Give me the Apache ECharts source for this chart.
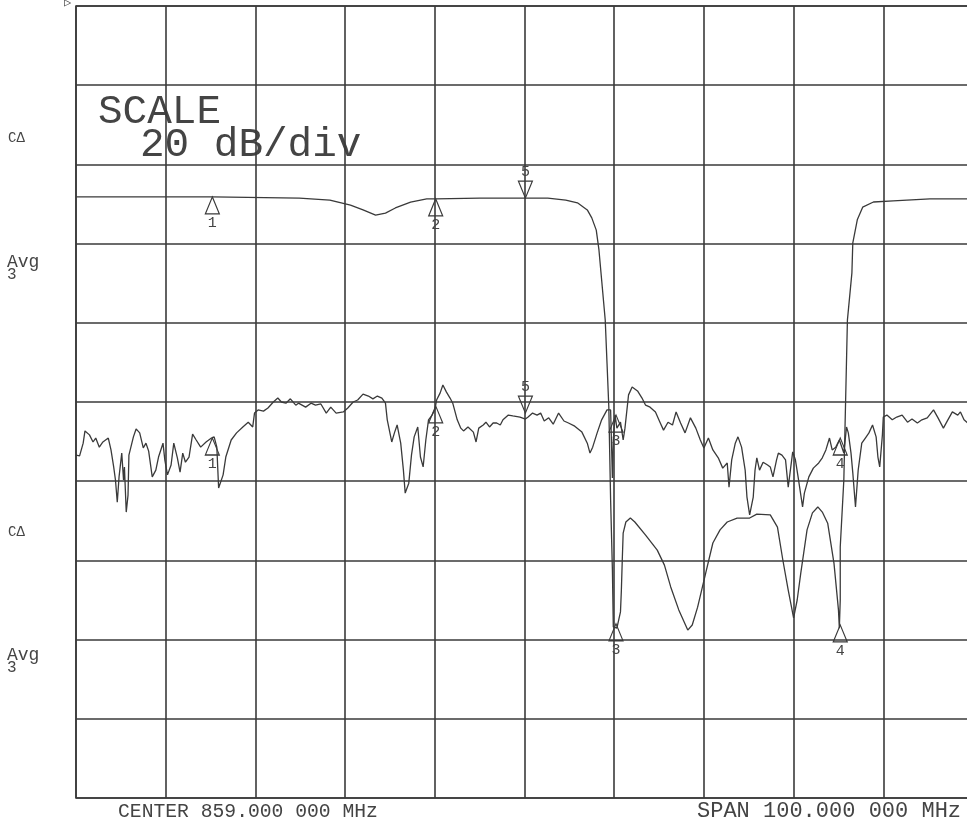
<!DOCTYPE html>
<html><head><meta charset="utf-8">
<script src="https://cdn.jsdelivr.net/npm/echarts@6/dist/echarts.min.js"></script>
<style>html,body{margin:0;padding:0;background:#fff;overflow:hidden;}#c{width:967px;height:820px;}</style>
</head><body><div id="c"></div>
<script>
// Frequency axis (MHz): center 859, span 100, 10 MHz/div
const freqMin = 809, freqMax = 909, freqStep = 10;
// Amplitude axis (dB): 20 dB/div
const dbMin = -200, dbMax = 0, dbStep = 20;

// Smooth transmission trace [MHz, dB]
const s21Trace = [
[809.0,-48.2],[817.2,-48.2],[824.2,-48.2],[833.9,-48.5],[837.3,-49.0],[839.6,-50.3],[841.0,-51.5],[842.4,-52.8],
[843.5,-52.3],[844.6,-51.0],[846.3,-49.5],[848.1,-48.7],[849.1,-48.7],[854.0,-48.5],[859.1,-48.5],[861.6,-48.5],
[863.6,-49.0],[864.9,-49.7],[866.0,-51.5],[866.5,-53.5],[867.0,-56.6],[867.3,-61.6],[867.6,-69.2],[868.0,-79.3],
[868.2,-90.2],[868.4,-101.3],[868.6,-124.7],[868.8,-142.4],[868.9,-156.8],[869.3,-157.1],[869.7,-153.0],[869.8,-147.5],
[869.9,-139.9],[870.0,-133.1],[870.3,-130.3],[870.8,-129.3],[871.3,-130.3],[872.5,-133.6],[873.8,-137.4],[874.6,-141.2],
[875.3,-146.7],[876.2,-152.5],[877.2,-157.6],[877.7,-156.3],[878.3,-151.8],[879.2,-143.2],[880.0,-135.6],[880.8,-132.3],
[881.6,-130.3],[882.7,-129.3],[884.1,-129.3],[884.9,-128.3],[886.4,-128.5],[887.2,-131.6],[887.8,-139.9],[888.4,-147.5],
[889.0,-154.5],[889.4,-150.0],[889.8,-143.2],[890.5,-132.3],[891.1,-128.0],[891.7,-126.5],[892.2,-127.8],[892.8,-130.6],
[893.5,-140.7],[894.0,-152.5],[894.1,-157.1],[894.2,-150.0],[894.2,-136.6],[894.6,-119.7],[894.8,-99.5],[895.0,-79.3],
[895.5,-67.4],[895.6,-59.8],[896.1,-54.0],[896.7,-50.8],[897.9,-49.5],[900.1,-49.2],[904.2,-48.7],[909.0,-48.7]
];

// Noisy trace [MHz, dB]
const s11Trace = [
[809.0,-113.4],[809.4,-113.6],[809.8,-110.4],[810.0,-107.3],[810.5,-108.3],[810.9,-110.1],[811.2,-109.1],[811.6,-111.4],
[812.0,-110.1],[812.6,-109.1],[812.9,-112.1],[813.2,-116.4],[813.4,-119.7],[813.6,-125.3],[813.8,-118.9],[814.1,-112.9],
[814.3,-119.7],[814.4,-116.4],[814.6,-127.8],[814.8,-123.5],[814.9,-113.4],[815.4,-108.8],[815.7,-106.8],[816.1,-107.8],
[816.5,-111.6],[816.8,-110.4],[817.1,-112.4],[817.5,-118.9],[817.9,-117.2],[818.2,-113.9],[818.7,-110.4],[818.9,-114.6],
[819.2,-118.4],[819.6,-115.9],[819.9,-110.4],[820.3,-114.1],[820.6,-117.7],[820.9,-112.9],[821.2,-115.2],[821.6,-113.9],
[822.0,-108.1],[822.4,-109.6],[822.9,-111.4],[823.5,-110.1],[824.1,-109.1],[824.4,-108.8],[824.7,-111.4],[824.9,-121.7],
[825.4,-118.4],[825.7,-113.9],[826.3,-109.6],[826.9,-107.8],[827.6,-106.3],[828.2,-105.1],[828.7,-106.3],[828.9,-102.8],
[829.3,-102.0],[829.9,-102.3],[830.4,-101.5],[831.0,-100.0],[831.5,-99.0],[831.9,-100.0],[832.4,-100.3],[832.9,-99.2],
[833.5,-100.8],[833.8,-100.3],[834.6,-101.3],[835.2,-100.3],[835.7,-100.8],[836.3,-100.5],[836.9,-102.8],[837.4,-101.3],
[838.0,-102.8],[838.8,-102.5],[839.3,-101.5],[839.9,-100.0],[840.4,-99.5],[841.0,-98.0],[841.6,-98.5],[842.1,-99.2],
[842.6,-98.5],[843.1,-99.0],[843.5,-100.3],[843.7,-104.5],[844.2,-110.1],[844.5,-107.8],[844.8,-105.8],[845.2,-110.4],
[845.5,-117.2],[845.7,-123.0],[846.1,-120.5],[846.4,-113.4],[846.7,-108.8],[847.1,-106.3],[847.4,-113.9],[847.7,-116.4],
[848.0,-109.6],[848.3,-104.5],[848.7,-103.3],[849.0,-102.0],[849.2,-99.5],[849.6,-97.7],[849.9,-95.7],[850.3,-97.5],
[850.7,-99.0],[851.0,-100.3],[851.5,-104.5],[851.9,-106.6],[852.2,-107.3],[852.7,-106.3],[853.3,-107.6],[853.6,-110.1],
[853.9,-106.6],[854.4,-105.8],[854.7,-105.1],[855.1,-106.3],[855.5,-105.3],[855.9,-105.3],[856.3,-105.8],[856.6,-104.5],
[857.2,-103.3],[857.7,-103.5],[858.5,-103.8],[859.1,-104.3],[859.4,-103.8],[859.9,-102.8],[860.4,-103.3],[860.8,-102.8],
[861.2,-104.8],[861.7,-104.0],[862.2,-105.6],[862.8,-102.8],[863.4,-104.8],[863.9,-105.3],[864.6,-106.1],[865.4,-107.6],
[866.0,-110.4],[866.3,-112.9],[866.6,-111.4],[867.1,-107.8],[867.6,-104.5],[868.2,-102.0],[868.4,-101.5],[868.6,-102.0],
[868.8,-119.2],[868.9,-109.6],[869.1,-103.3],[869.3,-106.6],[869.7,-105.1],[870.0,-109.6],[870.2,-106.6],[870.6,-98.2],
[871.0,-96.2],[871.6,-97.2],[872.1,-99.0],[872.5,-100.8],[873.0,-101.3],[873.6,-102.5],[874.1,-105.1],[874.5,-107.1],
[875.0,-105.1],[875.5,-105.8],[875.9,-102.5],[876.4,-105.3],[876.9,-107.8],[877.5,-104.0],[878.1,-106.6],[878.6,-109.6],
[879.0,-111.6],[879.5,-109.1],[880.0,-112.1],[880.6,-114.1],[881.1,-116.7],[881.6,-115.4],[881.8,-121.5],[882.1,-114.6],
[882.5,-110.4],[882.8,-108.8],[883.2,-111.4],[883.6,-117.2],[883.8,-124.0],[884.1,-128.5],[884.5,-124.0],[884.7,-117.2],
[884.9,-114.1],[885.2,-117.2],[885.6,-115.2],[886.1,-115.9],[886.4,-116.4],[886.7,-118.9],[887.1,-114.6],[887.3,-112.9],
[887.7,-113.4],[888.1,-114.6],[888.4,-121.5],[888.9,-112.6],[889.2,-114.6],[889.5,-118.9],[890.0,-126.5],[890.2,-123.0],
[890.7,-118.9],[891.2,-116.7],[891.8,-115.4],[892.2,-114.1],[892.6,-112.1],[893.0,-109.1],[893.3,-112.1],[893.7,-111.4],
[894.1,-109.6],[894.6,-112.9],[894.9,-106.3],[895.1,-107.8],[895.4,-112.9],[895.6,-117.9],[895.9,-126.5],[896.2,-117.2],
[896.6,-110.4],[897.0,-109.1],[897.4,-107.8],[897.8,-105.8],[898.2,-108.8],[898.4,-113.9],[898.6,-116.4],[898.9,-108.3],
[899.0,-103.8],[899.4,-103.3],[900.0,-104.5],[900.5,-103.8],[901.1,-103.3],[901.7,-105.1],[902.2,-104.3],[902.8,-105.3],
[903.3,-104.5],[903.9,-104.0],[904.6,-102.0],[905.1,-104.0],[905.7,-106.6],[906.2,-104.5],[906.7,-102.5],[907.3,-103.3],
[907.6,-102.5],[908.0,-104.5],[908.4,-105.3],[909.0,-103.8]
];

// Markers
const markerNames = ['1', '2', '5', '3', '4'];
const markerFreq = [824.2, 849.1, 859.1, 869.2, 894.2];
const markerS21 = [-48.2, -48.7, -48.5, -156.0, -156.3];
const markerS11 = [-109.1, -101.0, -102.8, -103.3, -109.1];
const markerInverted = [false, false, true, false, false];

const ink = '#3a3a3a';
const textInk = '#444444';
const mono = '"Liberation Mono", "DejaVu Sans Mono", monospace';
const upPath = 'path://M5,0L10,16L0,16Z';
const downPath = 'path://M0,0L10,0L5,16Z';

function markers(values) {
  return {
    silent: true,
    animation: false,
    itemStyle: { color: 'rgba(0,0,0,0)', borderColor: ink, borderWidth: 1.2 },
    label: { show: true, color: textInk, fontFamily: mono, fontSize: 15, distance: 1, formatter: p => p.name },
    data: markerFreq.map((f, i) => ({
      name: markerNames[i],
      coord: [f, values[i]],
      symbol: markerInverted[i] ? downPath : upPath,
      symbolSize: [14, 17],
      symbolOffset: markerInverted[i] ? [0, -8.5] : [0, 8.5],
      label: { position: markerInverted[i] ? 'top' : 'bottom' }
    }))
  };
}

const chart = echarts.init(document.getElementById('c'), null, { renderer: 'canvas' });
const txt = (x, y, text, size) => ({
  type: 'text', left: x, top: y, silent: true,
  style: { text, fill: textInk, font: size + 'px ' + mono }
});
chart.setOption({
  animation: false,
  backgroundColor: '#ffffff',
  grid: {
    left: 76, top: 6, width: 897, height: 792, outerBoundsMode: 'none', containLabel: false,
    show: true, borderColor: ink, borderWidth: 1.6, backgroundColor: 'transparent'
  },
  xAxis: {
    type: 'value', min: freqMin, max: freqMax, interval: freqStep,
    axisLine: { show: false }, axisTick: { show: false }, axisLabel: { show: false },
    splitLine: { show: true, lineStyle: { color: ink, width: 1.6 } }
  },
  yAxis: {
    type: 'value', min: dbMin, max: dbMax, interval: dbStep,
    axisLine: { show: false }, axisTick: { show: false }, axisLabel: { show: false },
    splitLine: { show: true, lineStyle: { color: ink, width: 1.6 } }
  },
  series: [
    { type: 'line', data: s21Trace, showSymbol: false, lineStyle: { color: ink, width: 1.3 }, markPoint: markers(markerS21), z: 3 },
    { type: 'line', data: s11Trace, showSymbol: false, lineStyle: { color: ink, width: 1.3 }, markPoint: markers(markerS11), z: 3 }
  ],
  graphic: [
    txt(98, 92, 'SCALE', 41),
    txt(140, 125, '20 dB/div', 41),
    txt(118, 802, 'CENTER 859.000 000 MHz', 19.7),
    txt(697, 800, 'SPAN 100.000 000 MHz', 22),
    txt(8, 131, 'C\u0394', 14),
    txt(7, 253, 'Avg', 18),
    txt(7, 267, '3', 16),
    txt(8, 525, 'C\u0394', 14),
    txt(7, 646, 'Avg', 18),
    txt(7, 660, '3', 16),
    txt(64, -3, '\u25B7', 12)
  ]
});
</script></body></html>
